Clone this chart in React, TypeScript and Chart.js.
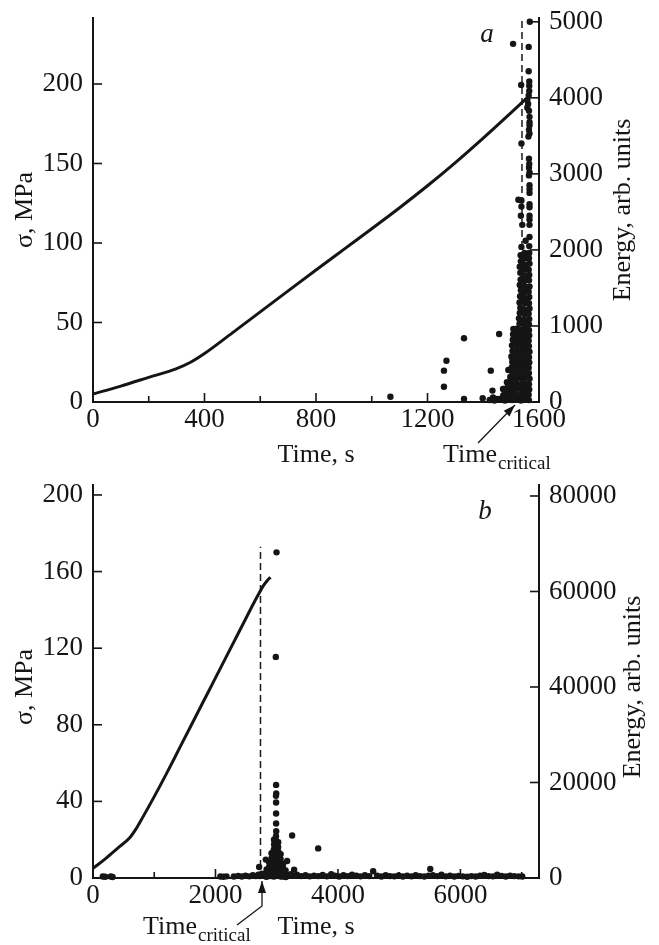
import React, { useEffect, useRef } from "react";
import { Chart, registerables } from "chart.js";
Chart.register(...registerables);

const FONT = '"Liberation Serif", "Times New Roman", serif';
const INK = "#151515";

// ---------- Panel a ----------
const aCurveT = [0, 100, 200, 300, 350, 400, 500, 600, 700, 800, 900, 1000, 1100, 1200, 1300, 1400, 1500, 1555];
const aCurveS = [5, 10, 15.5, 21, 25, 30.5, 43.5, 56.7, 69.9, 83, 96, 109, 122.2, 136, 150.6, 166, 182, 191];
const aCriticalT = 1539;
const aCriticalTop = 240;
const aEvents: number[][] = [
  [1067, 70], [1259, 200], [1259, 412], [1268, 543], [1331, 838], [1331, 40], [1398, 50], [1423, 26],
  [1427, 412], [1433, 150], [1435, 60], [1457, 895], [1471, 170], [1460, 40], [1475, 90], [1504, 575], [1514, 904],
  [1490, 30], [1492, 100], [1494, 170], [1496, 250], [1497, 330], [1480, 40], [1483, 110], [1487, 190],
  [1470, 30], [1472, 90], [1449, 40], [1440, 20], [1474, 170], [1490, 420], [1485, 260], [1478, 20],
  [1503, 25], [1501, 95], [1504, 165], [1500, 235], [1503, 310], [1505, 380], [1502, 455], [1504, 525],
  [1501, 600], [1505, 670], [1503, 745], [1506, 820], [1507, 890], [1508, 960],
  [1511, 60], [1512, 200], [1511, 340], [1512, 490], [1511, 640], [1512, 780], [1513, 930],
  [1519, 40], [1517, 110], [1520, 180], [1518, 250], [1521, 320], [1519, 395], [1517, 465], [1520, 535],
  [1518, 610], [1521, 680], [1519, 750], [1520, 825], [1518, 895], [1521, 965],
  [1527, 70], [1528, 210], [1527, 350], [1528, 500], [1527, 640], [1528, 790], [1527, 930],
  [1535, 20], [1533, 90], [1536, 160], [1534, 230], [1537, 305], [1535, 375], [1533, 445], [1536, 515],
  [1534, 590], [1537, 660], [1535, 730], [1534, 805], [1536, 875], [1535, 950],
  [1542, 60], [1543, 200], [1542, 350], [1543, 490], [1542, 640], [1543, 780], [1542, 920],
  [1550, 35], [1548, 105], [1551, 175], [1549, 245], [1552, 320], [1550, 390], [1548, 460], [1551, 530],
  [1549, 605], [1552, 675], [1550, 745], [1549, 820], [1551, 890], [1550, 960],
  [1557, 70], [1558, 210], [1557, 350], [1558, 500], [1557, 640], [1558, 790], [1557, 930],
  [1564, 25], [1563, 95], [1565, 165], [1564, 235], [1566, 305], [1564, 380], [1563, 450], [1565, 520],
  [1564, 590], [1566, 660], [1564, 735], [1563, 805], [1565, 875], [1564, 945],
  [1530, 1030], [1528, 1100], [1531, 1170], [1533, 1240], [1530, 1310], [1532, 1390], [1535, 1470],
  [1531, 1540], [1534, 1610], [1533, 1700], [1531, 1780], [1535, 1850], [1534, 1930], [1537, 2040],
  [1540, 1060], [1541, 1200], [1540, 1340], [1541, 1480], [1540, 1620], [1541, 1760], [1540, 1900],
  [1548, 1010], [1546, 1080], [1549, 1150], [1547, 1220], [1550, 1300], [1548, 1370], [1546, 1440],
  [1549, 1520], [1547, 1590], [1550, 1660], [1548, 1740], [1547, 1810], [1549, 1890], [1548, 1960],
  [1556, 1050], [1557, 1190], [1556, 1330], [1557, 1470], [1556, 1610], [1557, 1750], [1556, 1890],
  [1564, 1020], [1565, 1090], [1563, 1160], [1566, 1230], [1564, 1300], [1565, 1380], [1563, 1450],
  [1566, 1520], [1564, 1600], [1565, 1670], [1563, 1740], [1566, 1820], [1564, 1890], [1565, 1960],
  [1565, 2050], [1552, 2120], [1566, 2170], [1540, 2330], [1566, 2330], [1566, 2400], [1535, 2450],
  [1566, 2450], [1566, 2560], [1566, 2600], [1537, 2570], [1537, 2650], [1526, 2660], [1566, 2750],
  [1566, 2800], [1566, 2850], [1564, 2980], [1566, 3020], [1564, 3080], [1565, 3130], [1564, 3200],
  [1537, 3400], [1562, 3490], [1566, 3530], [1564, 3580], [1566, 3640], [1566, 3680], [1566, 3750],
  [1564, 3830], [1558, 3870], [1561, 3920], [1558, 3970], [1563, 4030], [1565, 4090], [1565, 4160],
  [1536, 4170], [1565, 4215], [1563, 4350], [1563, 4670], [1507, 4710], [1567, 5000],
];
const aXTicks = [0, 400, 800, 1200, 1600];
const aXMinor = [200, 600, 1000, 1400];
const aYTicks = [0, 50, 100, 150, 200];
const aY1Ticks = [0, 1000, 2000, 3000, 4000, 5000];
const aY1Labels = ["0", "1000", "2000", "3000", "4000", "5000"];

// ---------- Panel b ----------
const bCurveT = [0, 200, 400, 600, 700, 800, 1000, 1200, 1400, 1600, 1800, 2000, 2200, 2400, 2600, 2700, 2780, 2850, 2900];
const bCurveS = [5, 10, 15.5, 21, 25.5, 31, 42.5, 54.5, 67, 79.5, 92, 104.5, 117, 129.5, 142, 148, 152.5, 155.5, 157];
const bCriticalT = 2735;
const bCriticalTop = 173;
const bEvents: number[][] = [
  [160, 300], [200, 250], [290, 300], [320, 200],
  [2080, 300], [2130, 250], [2180, 350], [2300, 300], [2370, 450], [2430, 300], [2490, 500], [2550, 350],
  [2610, 600], [2660, 400], [2700, 700], [2760, 500], [2800, 400],
  [3200, 600], [3260, 500], [3330, 700], [3400, 400], [3470, 600], [3540, 350], [3610, 500], [3680, 400],
  [3750, 650], [3820, 350], [3890, 800], [3950, 500], [4020, 300], [4090, 600], [4160, 400], [4230, 700],
  [4300, 500], [4370, 350], [4440, 600], [4510, 400], [4575, 1400], [4640, 500], [4710, 300], [4780, 600],
  [4850, 400], [4920, 350], [4990, 550], [5060, 300], [5130, 500], [5200, 350], [5270, 600], [5340, 400],
  [5410, 300], [5480, 500], [5507, 1900], [5550, 600], [5620, 400], [5690, 700], [5760, 350], [5830, 500],
  [5900, 300], [5970, 450], [6040, 350], [6110, 250], [6180, 400], [6250, 300], [6320, 500], [6390, 650],
  [6460, 400], [6530, 350], [6600, 700], [6670, 450], [6740, 300], [6810, 500], [6880, 400], [6950, 350],
  [7010, 300],
  [2990, 19500], [2992, 17700], [2988, 17200], [2990, 15800], [2990, 13500], [2990, 11400], [2992, 9800],
  [2988, 8750], [2990, 7800], [2992, 7000], [2988, 6200], [2990, 5400], [2992, 4600], [2988, 3800],
  [2990, 3000], [2992, 2200], [2988, 1400], [2990, 600],
  [2955, 8000], [2957, 7000], [2953, 6000], [2955, 5000], [2957, 4000], [2953, 3000], [2955, 2000], [2957, 1000], [2955, 300],
  [3025, 7500], [3023, 6500], [3027, 5500], [3025, 4500], [3023, 3500], [3027, 2500], [3025, 1500], [3023, 600],
  [2915, 5200], [2917, 4200], [2913, 3200], [2915, 2200], [2917, 1200], [2915, 400],
  [3065, 5000], [3063, 4000], [3067, 3000], [3065, 2000], [3063, 1000], [3067, 300],
  [2875, 3300], [2877, 2300], [2873, 1300], [2875, 400],
  [3105, 3000], [3107, 2000], [3103, 1000], [3105, 300],
  [2835, 1800], [2837, 900], [2833, 250],
  [3145, 1600], [3147, 700], [3150, 200],
  [2997, 68200], [2985, 46300], [3252, 8900], [3677, 6200], [2822, 3850], [3170, 3550], [2713, 2300],
  [3284, 1750], [3230, 800], [2760, 900], [2720, 400],
];
const bXTicks = [0, 2000, 4000, 6000];
const bXMinor = [1000, 3000, 5000, 7000];
const bYTicks = [0, 40, 80, 120, 160, 200];
const bY1Ticks = [0, 20000, 40000, 60000, 80000];
const bY1Labels = ["0", "20000", "40000", "60000", "80000"];

type Panel = {
  curveT: number[]; curveS: number[]; critT: number; critTop: number; events: number[][];
  xMax: number; yMax: number; y1Max: number;
  xTicks: number[]; xMinor: number[]; yTicks: number[]; y1Ticks: number[]; y1Labels: string[];
  padTop: number; xHeight: number;
  letter: string; letterPos: [number, number];
  sigmaPos: [number, number]; energyPos: [number, number];
  timePos: [number, number]; critPos: [number, number];
  arrow: number[][];
};

function txt(ctx: CanvasRenderingContext2D, s: string, x: number, y: number, font: string, align: CanvasTextAlign = "center", base: CanvasTextBaseline = "alphabetic", rot = 0) {
  ctx.save();
  ctx.font = font;
  ctx.fillStyle = INK;
  ctx.textAlign = align;
  ctx.textBaseline = base;
  ctx.translate(x, y);
  if (rot) ctx.rotate(rot);
  ctx.fillText(s, 0, 0);
  ctx.restore();
}

function makeDecor(p: Panel) {
  return {
    id: "decor",
    afterDraw(chart: any) {
      const { ctx, chartArea: ca, scales } = chart;
      ctx.save();
      ctx.strokeStyle = INK;
      ctx.lineWidth = 1.6;
      const seg = (x1: number, y1: number, x2: number, y2: number) => {
        ctx.beginPath(); ctx.moveTo(x1, y1); ctx.lineTo(x2, y2); ctx.stroke();
      };
      p.xTicks.forEach((v) => { const px = scales.x.getPixelForValue(v); seg(px, ca.bottom, px, ca.bottom - 9); });
      p.xMinor.forEach((v) => { const px = scales.x.getPixelForValue(v); seg(px, ca.bottom, px, ca.bottom - 6); });
      p.yTicks.forEach((v) => { const py = scales.y.getPixelForValue(v); seg(ca.left, py, ca.left + 9, py); });
      p.y1Ticks.forEach((v) => { const py = scales.y1.getPixelForValue(v); seg(ca.right, py, ca.right - 9, py); });

      // arrow
      ctx.lineWidth = 1.3;
      ctx.beginPath();
      p.arrow.forEach(([x, y], i) => (i === 0 ? ctx.moveTo(x, y) : ctx.lineTo(x, y)));
      ctx.stroke();
      const [hx, hy] = p.arrow[p.arrow.length - 1];
      const [px0, py0] = p.arrow[p.arrow.length - 2];
      const ang = Math.atan2(hy - py0, hx - px0);
      const L = 12, W = 4;
      ctx.fillStyle = INK;
      ctx.beginPath();
      ctx.moveTo(hx, hy);
      ctx.lineTo(hx - L * Math.cos(ang) + W * Math.sin(ang), hy - L * Math.sin(ang) - W * Math.cos(ang));
      ctx.lineTo(hx - L * Math.cos(ang) - W * Math.sin(ang), hy - L * Math.sin(ang) + W * Math.cos(ang));
      ctx.closePath();
      ctx.fill();
      ctx.restore();

      const f = `26px ${FONT}`;
      txt(ctx, "\u03c3, MPa", p.sigmaPos[0], p.sigmaPos[1], f, "center", "middle", -Math.PI / 2);
      txt(ctx, "Energy, arb. units", p.energyPos[0], p.energyPos[1], f, "center", "middle", -Math.PI / 2);
      txt(ctx, "Time, s", p.timePos[0], p.timePos[1], f, "center", "alphabetic");
      ctx.save();
      ctx.font = f;
      const w = ctx.measureText("Time").width;
      ctx.restore();
      txt(ctx, "Time", p.critPos[0], p.critPos[1], f, "left", "alphabetic");
      txt(ctx, "critical", p.critPos[0] + w + 1, p.critPos[1] + 7, `19px ${FONT}`, "left", "alphabetic");
      txt(ctx, p.letter, p.letterPos[0], p.letterPos[1], `italic 27px ${FONT}`, "center", "middle");
    },
  };
}

function buildConfig(p: Panel): any {
  const tickFont = { family: FONT, size: 27 };
  const border = { display: true, color: INK, width: 2 };
  const grid = { display: false, drawTicks: false };
  return {
    type: "scatter",
    data: {
      datasets: [
        {
          data: p.curveT.map((t, i) => ({ x: t, y: p.curveS[i] })),
          yAxisID: "y", showLine: true, borderColor: INK, borderWidth: 3, pointRadius: 0,
          cubicInterpolationMode: "monotone", order: 2,
        },
        {
          data: [{ x: p.critT, y: 0 }, { x: p.critT, y: p.critTop }],
          yAxisID: "y", showLine: true, borderColor: "#1a1a1a", borderWidth: 1.5, borderDash: [7, 4],
          pointRadius: 0, order: 3,
        },
        {
          data: p.events.map(([t, e]) => ({ x: t, y: e })),
          yAxisID: "y1", pointRadius: 3.2, pointBackgroundColor: INK, pointBorderWidth: 0,
          backgroundColor: INK, borderWidth: 0, order: 1, clip: false,
        },
      ],
    },
    options: {
      responsive: false,
      animation: false,
      devicePixelRatio: 1,
      layout: { padding: { top: p.padTop, left: 0, right: 0, bottom: 0 } },
      plugins: { legend: { display: false }, tooltip: { enabled: false }, title: { display: false } },
      scales: {
        x: {
          type: "linear", position: "bottom", min: 0, max: p.xMax, border, grid,
          ticks: { font: tickFont, color: INK, padding: 2, maxRotation: 0, autoSkip: false, callback: (v: number) => String(v) },
          afterBuildTicks: (s: any) => { s.ticks = p.xTicks.map((v) => ({ value: v })); },
          afterFit: (s: any) => { s.height = p.xHeight; s.paddingLeft = 0; s.paddingRight = 0; },
        },
        y: {
          type: "linear", position: "left", min: 0, max: p.yMax, border, grid,
          ticks: { font: tickFont, color: INK, padding: 10, autoSkip: false, callback: (v: number) => String(v) },
          afterBuildTicks: (s: any) => { s.ticks = p.yTicks.map((v) => ({ value: v })); },
          afterFit: (s: any) => { s.width = 93; s.paddingTop = 0; s.paddingBottom = 0; },
        },
        y1: {
          type: "linear", position: "right", min: 0, max: p.y1Max, border, grid,
          ticks: {
            font: tickFont, color: INK, padding: 10, autoSkip: false,
            callback: (v: number) => { const i = p.y1Ticks.indexOf(v); return i >= 0 ? p.y1Labels[i] : ""; },
          },
          afterBuildTicks: (s: any) => { s.ticks = p.y1Ticks.map((v) => ({ value: v })); },
          afterFit: (s: any) => { s.width = 120; s.paddingTop = 0; s.paddingBottom = 0; },
        },
      },
    },
    plugins: [makeDecor(p)],
  };
}

const panelA: Panel = {
  curveT: aCurveT, curveS: aCurveS, critT: aCriticalT, critTop: aCriticalTop, events: aEvents,
  xMax: 1600, yMax: 241.5, y1Max: 5050,
  xTicks: aXTicks, xMinor: aXMinor, yTicks: aYTicks, y1Ticks: aY1Ticks, y1Labels: aY1Labels,
  padTop: 18, xHeight: 73,
  letter: "a", letterPos: [487, 35],
  sigmaPos: [25, 210], energyPos: [623, 210],
  timePos: [316, 462], critPos: [443, 462],
  arrow: [[478, 443], [515, 405]],
};

const panelB: Panel = {
  curveT: bCurveT, curveS: bCurveS, critT: bCriticalT, critTop: bCriticalTop, events: bEvents,
  xMax: 7283, yMax: 205.2, y1Max: 82300,
  xTicks: bXTicks, xMinor: bXMinor, yTicks: bYTicks, y1Ticks: bY1Ticks, y1Labels: bY1Labels,
  padTop: 25, xHeight: 67,
  letter: "b", letterPos: [485, 52],
  sigmaPos: [25, 227], energyPos: [633, 227],
  timePos: [316, 474], critPos: [143, 474],
  arrow: [[237, 465], [262, 446], [262, 421]],
};

function PanelCanvas({ panel, top, height }: { panel: Panel; top: number; height: number }) {
  const ref = useRef<HTMLCanvasElement>(null);
  useEffect(() => {
    const chart = new Chart(ref.current as HTMLCanvasElement, buildConfig(panel));
    return () => chart.destroy();
  }, [panel]);
  return (
    <canvas
      ref={ref}
      width={659}
      height={height}
      style={{ position: "absolute", left: 0, top, width: 659, height }}
    />
  );
}

export default function App() {
  return (
    <div style={{ position: "absolute", left: 0, top: 0, width: 659, height: 945, background: "#fff" }}>
      <PanelCanvas panel={panelA} top={0} height={475} />
      <PanelCanvas panel={panelB} top={460} height={485} />
    </div>
  );
}
